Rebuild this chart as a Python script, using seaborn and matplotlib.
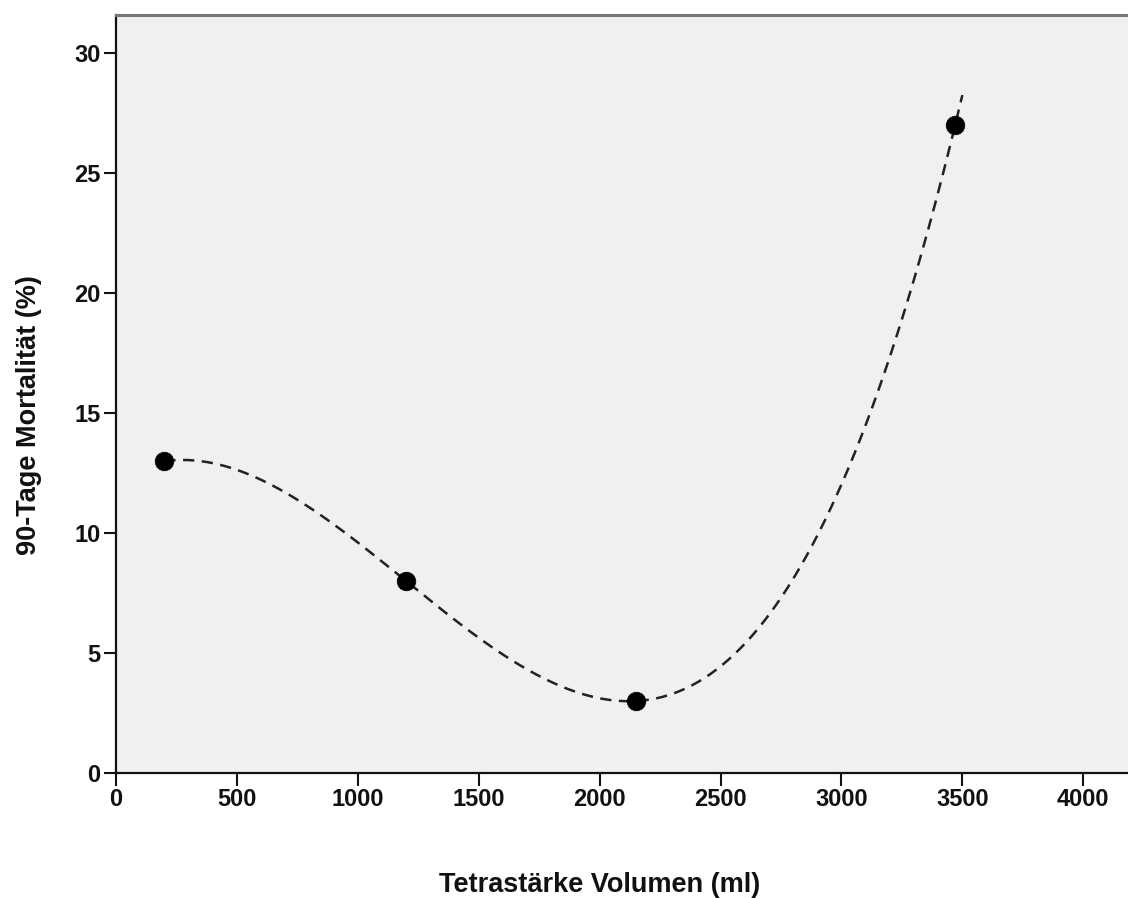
import numpy as np
import pandas as pd
import matplotlib
matplotlib.use("Agg")
import matplotlib.pyplot as plt
import seaborn as sns

# Data
volume_ml = [200, 1200, 2150, 3470]
mortality_pct = [13, 8, 3, 27]
x_ticks = [0, 500, 1000, 1500, 2000, 2500, 3000, 3500, 4000]
y_ticks = [0, 5, 10, 15, 20, 25, 30]
fit_end_ml = 3500  # visible end of the cubic fit line

sns.set_theme(style="white")
plt.rcParams["font.family"] = ["Liberation Sans", "DejaVu Sans"]

df = pd.DataFrame({"vol": volume_ml, "mort": mortality_pct})

# cubic fit line (as in the reference's fit line)
coef = np.polyfit(df["vol"], df["mort"], 3)
xs = np.linspace(min(volume_ml), fit_end_ml, 400)
fit = pd.DataFrame({"vol": xs, "mort": np.polyval(coef, xs)})

fig = plt.figure(figsize=(11.28, 8.98), dpi=100)
ax = fig.add_axes([116 / 1128, 1 - 773 / 898, 1 - 116 / 1128, (773 - 15) / 898])
ax.set_facecolor("#f0f0f0")

sns.lineplot(data=fit, x="vol", y="mort", ax=ax, color="#222222",
             linewidth=1.8, dashes=False, linestyle=(0, (4.5, 3)))
sns.scatterplot(data=df, x="vol", y="mort", ax=ax, color="black", s=180,
                edgecolor="black", linewidth=0.5, zorder=5)

ax.set_xlim(0, 4185)
ax.set_ylim(0, 31.6)
ax.set_xticks(x_ticks)
ax.set_yticks(y_ticks)

tick_font = ["Liberation Sans Narrow", "Liberation Sans", "DejaVu Sans"]
ax.set_xticklabels([str(t) for t in x_ticks], family=tick_font,
                   fontweight="bold", fontsize=17, color="#111111")
ax.set_yticklabels([str(t) for t in y_ticks], family=tick_font,
                   fontweight="bold", fontsize=17, color="#111111")
ax.tick_params(axis="both", direction="out", length=9, width=1.5,
               color="#111111", pad=2, bottom=True, left=True)

for side in ["left", "bottom"]:
    ax.spines[side].set_color("#111111")
    ax.spines[side].set_linewidth(1.6)
ax.spines["top"].set_color("#777777")
ax.spines["top"].set_linewidth(2.2)
ax.spines["right"].set_visible(False)

ax.set_xlabel("Tetrastärke Volumen (ml)", fontsize=19.5, fontweight="bold",
              color="#111111")
ax.set_ylabel("90-Tage Mortalität (%)", fontsize=19.5, fontweight="bold",
              color="#111111")
ax.xaxis.set_label_coords(0.478, -0.130)
ax.yaxis.set_label_coords(-0.073, 0.472)

fig.savefig("out.png", dpi=100)
